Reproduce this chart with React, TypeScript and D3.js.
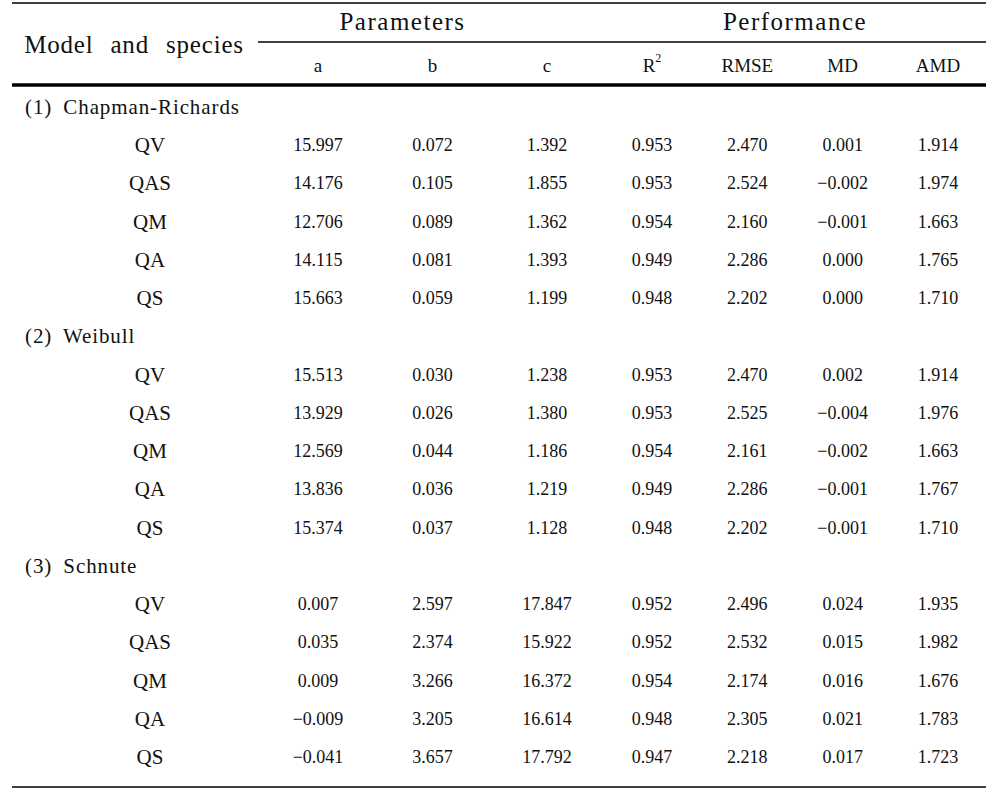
import React from "react";
import * as d3 from "d3";

const width = 997;
const height = 793;

const models = ["(1) Chapman-Richards", "(2) Weibull", "(3) Schnute"];
const species = ["QV", "QAS", "QM", "QA", "QS"];
const paramCols = ["a", "b", "c"];
const perfCols = ["R2", "RMSE", "MD", "AMD"];

// a, b, c, R2, RMSE, MD, AMD per species
const chapmanRichards = [
  [15.997, 0.072, 1.392, 0.953, 2.47, 0.001, 1.914],
  [14.176, 0.105, 1.855, 0.953, 2.524, -0.002, 1.974],
  [12.706, 0.089, 1.362, 0.954, 2.16, -0.001, 1.663],
  [14.115, 0.081, 1.393, 0.949, 2.286, 0.0, 1.765],
  [15.663, 0.059, 1.199, 0.948, 2.202, 0.0, 1.71],
];
const weibull = [
  [15.513, 0.03, 1.238, 0.953, 2.47, 0.002, 1.914],
  [13.929, 0.026, 1.38, 0.953, 2.525, -0.004, 1.976],
  [12.569, 0.044, 1.186, 0.954, 2.161, -0.002, 1.663],
  [13.836, 0.036, 1.219, 0.949, 2.286, -0.001, 1.767],
  [15.374, 0.037, 1.128, 0.948, 2.202, -0.001, 1.71],
];
const schnute = [
  [0.007, 2.597, 17.847, 0.952, 2.496, 0.024, 1.935],
  [0.035, 2.374, 15.922, 0.952, 2.532, 0.015, 1.982],
  [0.009, 3.266, 16.372, 0.954, 2.174, 0.016, 1.676],
  [-0.009, 3.205, 16.614, 0.948, 2.305, 0.021, 1.783],
  [-0.041, 3.657, 17.792, 0.947, 2.218, 0.017, 1.723],
];

const modelValues = [chapmanRichards, weibull, schnute];

const fmt = d3.format(".3f");
const font = '"Liberation Serif", "DejaVu Serif", serif';

export default function App() {
  // table rows: a label row for each model, then its species
  const rows: { kind: "group" | "row"; label: string; values?: number[] }[] = [];
  models.forEach((m, i) => {
    rows.push({ kind: "group", label: m });
    species.forEach((s, j) => rows.push({ kind: "row", label: s, values: modelValues[i][j] }));
  });

  const left = 12;
  const right = 986;
  const ruleStart = 258;

  const y = d3.scaleLinear().domain([0, rows.length - 1]).range([107, 757]);
  const paramX = d3.scalePoint().domain(paramCols).range([318, 547]);
  const perfX = d3.scalePoint().domain(perfCols).range([652, 938]);
  const colX = (i: number) => (i < 3 ? paramX(paramCols[i]) : perfX(perfCols[i - 3])) as number;

  const paramCenter = (ruleStart + (paramX("c") as number)) / 2;
  const perfCenter = ((perfX("R2") as number) + (perfX("AMD") as number)) / 2;

  return (
    <svg
      width={width}
      height={height}
      style={{ position: "absolute", left: 0, top: 0, background: "#fff", fontFamily: font }}
      fill="#111"
    >
      {/* rules */}
      <line x1={left} x2={right} y1={3} y2={3} stroke="#000" strokeWidth={1.5} />
      <line x1={ruleStart} x2={right} y1={42} y2={42} stroke="#000" strokeWidth={1.5} />
      <line x1={left} x2={right} y1={85} y2={85} stroke="#000" strokeWidth={3.5} />
      <line x1={left} x2={right} y1={787} y2={787} stroke="#000" strokeWidth={1.5} />

      {/* header */}
      <text x={134} y={44} fontSize={25} textAnchor="middle" dominantBaseline="central" wordSpacing={10} letterSpacing={0.8}>
        Model and species
      </text>
      <text x={paramCenter} y={21} fontSize={25} textAnchor="middle" dominantBaseline="central" letterSpacing={1.5}>
        Parameters
      </text>
      <text x={perfCenter} y={21} fontSize={25} textAnchor="middle" dominantBaseline="central" letterSpacing={1.5}>
        Performance
      </text>
      {paramCols.map((c) => (
        <text key={c} x={paramX(c)} y={65} fontSize={19} textAnchor="middle" dominantBaseline="central">
          {c}
        </text>
      ))}
      {perfCols.map((c) => (
        <text key={c} x={perfX(c)} y={65} fontSize={19} textAnchor="middle" dominantBaseline="central">
          {c === "R2" ? (
            <>
              R<tspan fontSize={12} dy={-7}>2</tspan>
            </>
          ) : (
            c
          )}
        </text>
      ))}

      {/* body */}
      {rows.map((r, i) =>
        r.kind === "group" ? (
          <text key={i} x={25} y={y(i)} fontSize={21} dominantBaseline="central" wordSpacing={5} letterSpacing={0.9}>
            {r.label}
          </text>
        ) : (
          <g key={i}>
            <text x={150} y={y(i)} fontSize={21} textAnchor="middle" dominantBaseline="central">
              {r.label}
            </text>
            {r.values!.map((v, k) => (
              <text key={k} x={colX(k)} y={y(i)} fontSize={18} textAnchor="middle" dominantBaseline="central">
                {fmt(v)}
              </text>
            ))}
          </g>
        )
      )}
    </svg>
  );
}
